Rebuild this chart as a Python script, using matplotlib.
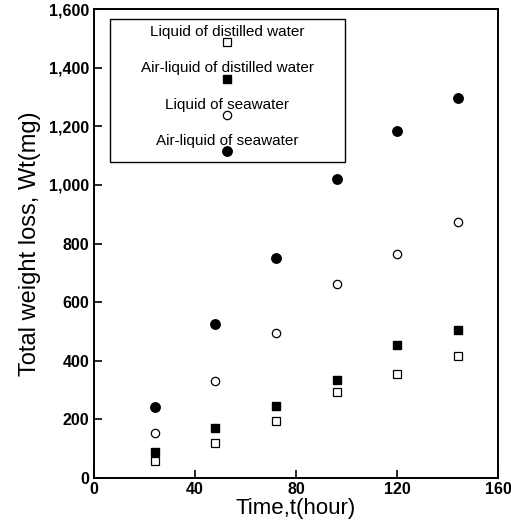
import matplotlib.pyplot as plt
from matplotlib.patches import Rectangle
from matplotlib.ticker import FuncFormatter

plt.rcParams['font.family'] = ['Liberation Sans', 'DejaVu Sans']

# Total weight loss (mg) vs time (hour)
hours = [24, 48, 72, 96, 120, 144]
liquid_distilled = [59, 121, 196, 293, 354, 415]
airliquid_distilled = [88, 169, 246, 334, 454, 504]
liquid_seawater = [153, 330, 496, 663, 765, 874]
airliquid_seawater = [244, 524, 752, 1022, 1184, 1296]

labels = ['Liquid of distilled water', 'Air-liquid of distilled water',
          'Liquid of seawater', 'Air-liquid of seawater']
series = [liquid_distilled, airliquid_distilled, liquid_seawater, airliquid_seawater]
styles = [dict(marker='s', ms=5.5, mfc='white', mec='black', mew=0.9),
          dict(marker='s', ms=6, mfc='black', mec='black'),
          dict(marker='o', ms=6, mfc='white', mec='black', mew=0.9),
          dict(marker='o', ms=6.8, mfc='black', mec='black')]

fig = plt.figure(figsize=(5.11, 5.21), dpi=100)
ax = fig.add_axes([0.184, 0.0825, 0.791, 0.9])

for vals, st in zip(series, styles):
    ax.plot(hours, vals, linestyle='none', **st)

ax.set_xlim(0, 160)
ax.set_ylim(0, 1600)
ax.set_xticks([0, 40, 80, 120, 160])
ax.set_yticks(range(0, 1601, 200))
ax.yaxis.set_major_formatter(FuncFormatter(lambda v, p: f'{int(v):,}'))
ax.tick_params(direction='in', length=6, width=1.2, labelsize=11.5)
ax.tick_params(axis='x', pad=3)
for lab in ax.get_xticklabels() + ax.get_yticklabels():
    lab.set_fontweight('bold')
for sp in ax.spines.values():
    sp.set_linewidth(1.4)

ax.set_xlabel('Time,t(hour)', fontsize=16, labelpad=0.5)
ax.set_ylabel('Total weight loss, Wt(mg)', fontsize=17, labelpad=6)

# legend box: text with its marker underneath
ax.add_patch(Rectangle((0.039, 0.673), 0.582, 0.306, transform=ax.transAxes,
                       fill=False, edgecolor='black', lw=1.0))
cx = 0.33
for i, (lab, st) in enumerate(zip(labels, styles)):
    ty = 0.951 - i * 0.0775
    ax.text(cx, ty, lab, transform=ax.transAxes, ha='center', va='center',
            fontsize=11)
    ax.plot([cx], [ty - 0.022], transform=ax.transAxes, linestyle='none', **st)

fig.savefig('out.png', dpi=100)
